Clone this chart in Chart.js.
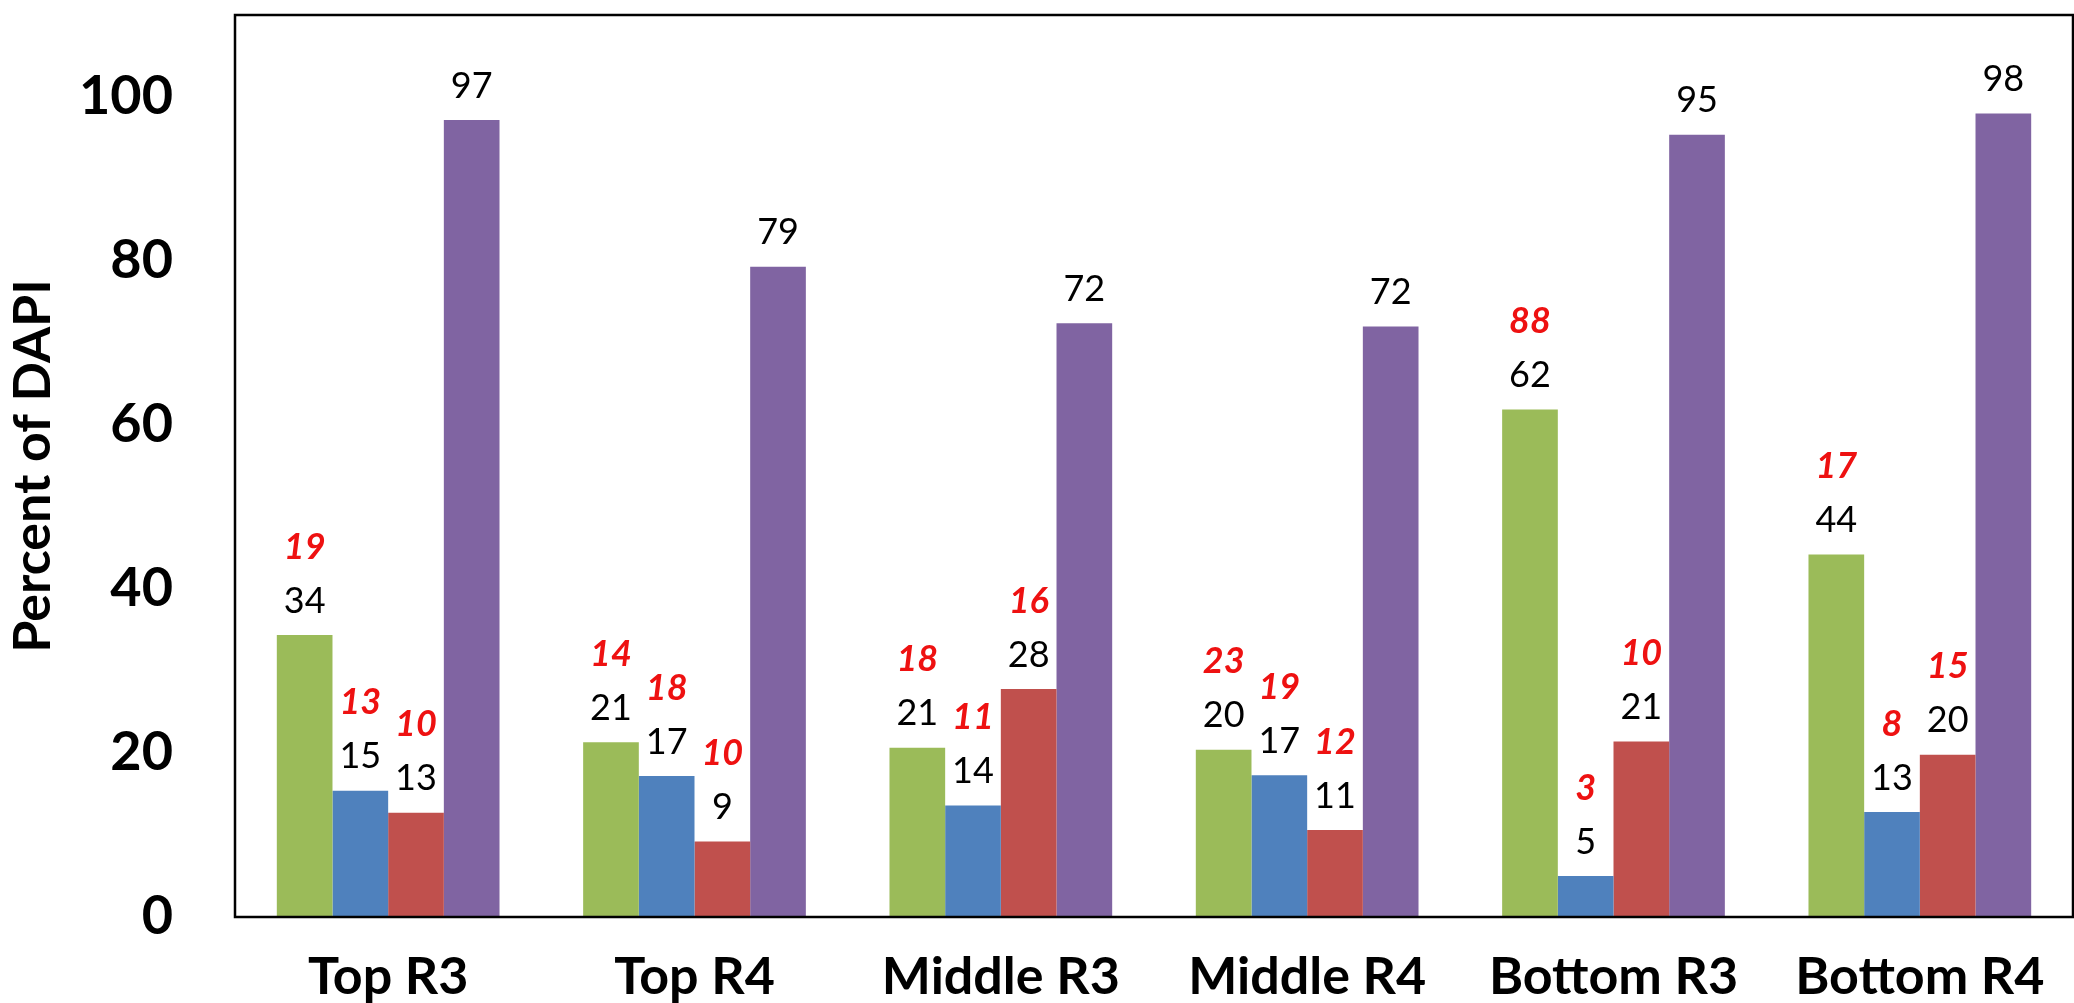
<!DOCTYPE html>
<html>
<head>
<meta charset="utf-8">
<script src="https://cdn.jsdelivr.net/npm/chart.js@4.4.0/dist/chart.umd.min.js"></script>
<style>
  html, body { margin: 0; padding: 0; background: #fff; }
  #wrap { width: 2074px; height: 1003px; }
</style>
</head>
<body>
<div id="wrap"><canvas id="dapiChart" width="2074" height="1003"></canvas></div>
<script>
// categories and series (bar heights)
const categories = ["Top R3", "Top R4", "Middle R3", "Middle R4", "Bottom R3", "Bottom R4"];
const greenVals  = [34.4, 21.3, 20.65, 20.4, 61.9, 44.2];
const blueVals   = [15.4, 17.2, 13.6, 17.3, 5.0, 12.8];
const redVals    = [12.7, 9.2, 27.8, 10.6, 21.4, 19.8];
const purpleVals = [97.2, 79.3, 72.4, 72.0, 95.4, 98.0];

// red italic numbers printed above the black value labels
const greenNotes = [19, 14, 18, 23, 88, 17];
const blueNotes  = [13, 18, 11, 19, 3, 8];
const redNotes   = [10, 10, 16, 12, 10, 15];

const yTicks = [0, 20, 40, 60, 80, 100];

/* ---- value labels + red notes above each bar ---- */
const barLabels = {
  id: "barLabels",
  afterDatasetsDraw(chart) {
    const ctx = chart.ctx;
    ctx.save();
    ctx.textAlign = "center";
    ctx.textBaseline = "middle";
    chart.data.datasets.forEach((ds, di) => {
      const meta = chart.getDatasetMeta(di);
      meta.data.forEach((bar, i) => {
        ctx.font = "normal 36px Lato";
        ctx.fillStyle = "#000";
        ctx.fillText(String(Math.round(ds.data[i])), bar.x, bar.y - 34);
        if (ds.notes) {
          ctx.font = "italic bold 36px Lato";
          ctx.fillStyle = "#ee1111";
          ctx.fillText(String(ds.notes[i]), bar.x, bar.y - 88);
        }
      });
    });
    ctx.restore();
  }
};

/* ---- black frame round the plot area ---- */
const plotFrame = {
  id: "plotFrame",
  afterDraw(chart) {
    const a = chart.chartArea;
    const ctx = chart.ctx;
    ctx.save();
    ctx.strokeStyle = "#000";
    ctx.lineWidth = 2.5;
    ctx.strokeRect(a.left, a.top, a.right - a.left, a.bottom - a.top);
    ctx.restore();
  }
};

new Chart(document.getElementById("dapiChart"), {
  type: "bar",
  data: {
    labels: categories,
    datasets: [
      { label: "green",  data: greenVals,  notes: greenNotes, backgroundColor: "#9bbb59" },
      { label: "blue",   data: blueVals,   notes: blueNotes,  backgroundColor: "#4f81bd" },
      { label: "red",    data: redVals,    notes: redNotes,   backgroundColor: "#c0504d" },
      { label: "purple", data: purpleVals, backgroundColor: "#8064a2" }
    ]
  },
  options: {
    responsive: false,
    devicePixelRatio: 1,
    animation: false,
    layout: { padding: { top: 15, right: 1, left: 0, bottom: 0 } },
    datasets: { bar: { barPercentage: 1.0, categoryPercentage: 0.727 } },
    plugins: { legend: { display: false }, tooltip: { enabled: false } },
    scales: {
      x: {
        grid: { display: false, drawTicks: false },
        border: { display: false },
        ticks: { color: "#000", font: { family: "Lato", size: 52, weight: "bold" }, padding: 29, maxRotation: 0 },
        afterFit: (scale) => { scale.height = 86; }
      },
      y: {
        min: 0,
        max: 110,
        grid: { display: false, drawTicks: false },
        border: { display: false },
        afterBuildTicks: (scale) => {
          scale.ticks = yTicks.map(v => ({ value: v }));
        },
        ticks: { color: "#000", font: { family: "Lato", size: 54, weight: "bold" }, padding: 62 },
        title: {
          display: true,
          text: "Percent of DAPI",
          color: "#000",
          font: { family: "Lato", size: 52, weight: "bold" },
          padding: { top: 2, bottom: 0 }
        },
        afterFit: (scale) => {
          scale.width = 235;
          scale.paddingTop = 0;
          scale.paddingBottom = 0;
        }
      }
    }
  },
  plugins: [barLabels, plotFrame]
});
</script>
</body>
</html>
